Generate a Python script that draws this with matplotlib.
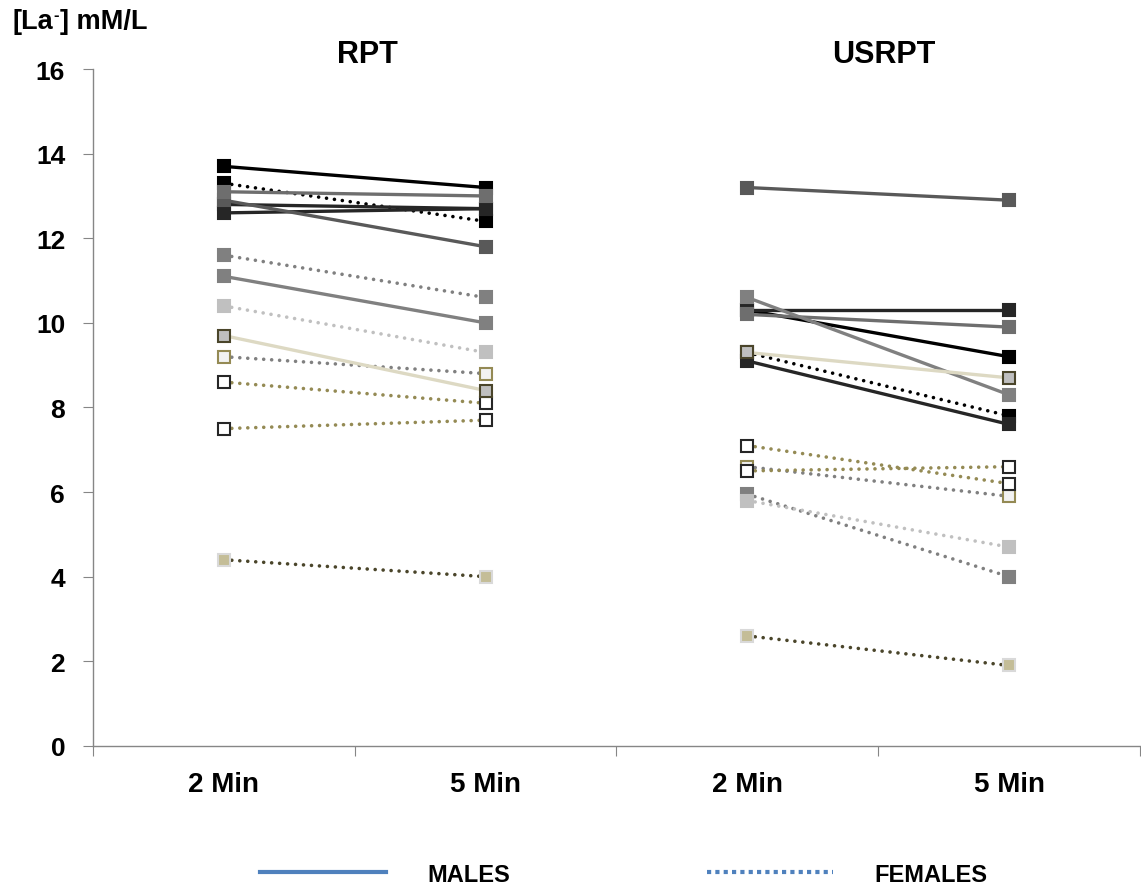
import matplotlib
matplotlib.use("Agg")
import matplotlib.pyplot as plt
from matplotlib.lines import Line2D

plt.rcParams['font.family'] = ['Liberation Sans', 'DejaVu Sans']

# categories
tick_labels = ['2 Min', '5 Min', '2 Min', '5 Min']
groups = ['RPT', 'USRPT']

# males (solid lines), one value per subject
rpt_2min_m = [13.7, 12.8, 12.6, 12.9, 13.1, 11.1, 9.7]
rpt_5min_m = [13.2, 12.7, 12.7, 11.8, 13.0, 10.0, 8.4]
usrpt_2min_m = [10.3, 10.3, 9.1, 13.2, 10.2, 10.6, 9.3]
usrpt_5min_m = [9.2, 10.3, 7.6, 12.9, 9.9, 8.3, 8.7]

# females (dotted lines)
rpt_2min_f = [13.3, 11.6, 10.4, 9.2, 8.6, 7.5, 4.4]
rpt_5min_f = [12.4, 10.6, 9.3, 8.8, 8.1, 7.7, 4.0]
usrpt_2min_f = [9.3, 5.95, 5.8, 6.6, 7.1, 6.5, 2.6]
usrpt_5min_f = [7.8, 4.0, 4.7, 5.9, 6.2, 6.6, 1.9]

# styles: (line colour, marker face, marker edge)
male_styles = [
    ('#000000', '#000000', '#000000'),
    ('#262626', '#262626', '#262626'),
    ('#262626', '#262626', '#262626'),
    ('#595959', '#595959', '#595959'),
    ('#6e6e6e', '#6e6e6e', '#6e6e6e'),
    ('#808080', '#808080', '#808080'),
    ('#ddd9c3', '#bfbfbf', '#4a452a'),
]
female_styles = [
    ('#000000', '#000000', '#000000'),
    ('#808080', '#808080', '#808080'),
    ('#c0c0c0', '#c0c0c0', '#c0c0c0'),
    ('#808080', '#f2f2f2', '#948a54'),
    ('#948a54', '#ffffff', '#262626'),
    ('#948a54', '#ffffff', '#262626'),
    ('#4a452a', '#c4bd97', '#d9d9d9'),
]

fig = plt.figure(figsize=(11.41, 8.87), dpi=100)
ax = fig.add_axes([0.0815, 0.158, 0.9175, 0.763])

x_rpt = [0.5, 1.5]
x_usrpt = [2.5, 3.5]
dot = (0, (0.01, 2.2))

for i, (lc, mf, me) in enumerate(female_styles):
    for xs, a, b in [(x_rpt, rpt_2min_f, rpt_5min_f), (x_usrpt, usrpt_2min_f, usrpt_5min_f)]:
        ax.plot(xs, [a[i], b[i]], color=lc, lw=2.6, linestyle=dot,
                dash_capstyle='round', marker='s', ms=9, mfc=mf, mec=me, mew=1.5)

for i, (lc, mf, me) in enumerate(male_styles):
    for xs, a, b in [(x_rpt, rpt_2min_m, rpt_5min_m), (x_usrpt, usrpt_2min_m, usrpt_5min_m)]:
        ax.plot(xs, [a[i], b[i]], color=lc, lw=2.4, linestyle='-',
                marker='s', ms=9, mfc=mf, mec=me, mew=1.5)

ax.set_xlim(0, 4)
ax.set_ylim(0, 16)
ax.set_yticks(range(0, 17, 2))
ax.set_xticks([0, 1, 2, 3, 4])
ax.set_xticklabels([])
ax.set_xticks([0.5, 1.5, 2.5, 3.5], minor=True)
ax.set_xticklabels(tick_labels, minor=True, fontsize=20, fontweight='bold')
ax.tick_params(axis='x', which='minor', length=0, pad=18)
ax.tick_params(axis='x', which='major', length=7, color='#868686', direction='out')
ax.tick_params(axis='y', length=7, color='#868686', pad=13, labelsize=19)
for lab in ax.get_yticklabels():
    lab.set_fontweight('bold')

for s in ['top', 'right']:
    ax.spines[s].set_visible(False)
for s in ['left', 'bottom']:
    ax.spines[s].set_color('#868686')
    ax.spines[s].set_linewidth(1)

for xg, g in zip([1.05, 3.02], groups):
    ax.text(xg, 16.17, g, ha='center', va='baseline', fontsize=22,
            fontweight='bold', clip_on=False)

# y-axis unit label with small superscript minus
t1 = fig.text(0.011, 0.967, '[La', fontsize=19.5, fontweight='bold',
              ha='left', va='baseline')
t2 = ax.annotate('-', xy=(1.0, 1.0), xycoords=t1, xytext=(0.5, 1), textcoords='offset points',
                 fontsize=12, fontweight='bold', ha='left', va='top')
t3 = ax.annotate('] mM/L', xy=(1.0, 0.0), xycoords=(t2, t1), xytext=(0.5, 0),
                 textcoords='offset points', fontsize=19.5, fontweight='bold',
                 ha='left', va='bottom')

handles = [Line2D([], [], color='#4f81bd', lw=3),
           Line2D([], [], color='#4f81bd', lw=3, linestyle=(0, (1, 1)))]
leg = fig.legend(handles, ['MALES', 'FEMALES'], loc='center',
                 bbox_to_anchor=(0.5465, 0.0135), ncol=2, frameon=False,
                 handlelength=5.34, handletextpad=1.74, columnspacing=8.35,
                 prop={'weight': 'bold', 'size': 17})

fig.savefig('out.png', dpi=100)
